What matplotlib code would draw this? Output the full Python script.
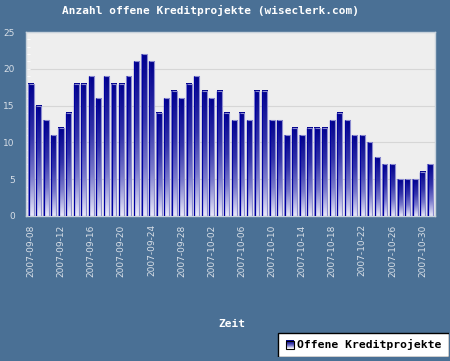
import numpy as np
import pandas as pd
import matplotlib
matplotlib.use("Agg")
import matplotlib.pyplot as plt
from matplotlib.colors import LinearSegmentedColormap
from matplotlib.patches import Rectangle
import matplotlib.dates as mdates

dates = pd.date_range("2007-09-08", "2007-10-31", freq="D")
values = [18, 15, 13, 11, 12, 14, 18, 18, 19, 16, 19, 18, 18, 19, 21, 22, 21, 14, 16, 17, 16, 18, 19,
          17, 16, 17, 14, 13, 14, 13, 17, 17, 13, 13, 11, 12, 11, 12, 12, 12, 13, 14, 13, 11, 11, 10, 8,
          7, 7, 5, 5, 5, 6, 7]
title = "Anzahl offene Kreditprojekte (wiseclerk.com)"
xlabel = "Zeit"
series_name = "Offene Kreditprojekte"

BG = "#4a7095"
TXT = "#d8dfe7"
cmap = LinearSegmentedColormap.from_list(
    "g", [(0.0, "#eaeafa"), (0.3, "#7a7acc"), (0.6, "#3434aa"), (1.0, "#00008c")])

fig = plt.figure(figsize=(4.5, 3.61), dpi=100, facecolor=BG)
ax = fig.add_axes([26/450, 1-216/361, 409/450, 184/361])
ax.set_facecolor("#eeeeee")

x = mdates.date2num(dates.to_pydatetime())
w = 0.7
bars = ax.bar(x, values, width=w, facecolor="none", edgecolor="#8c8cd0", linewidth=0.8, zorder=3)
grad = np.linspace(0, 1, 256).reshape(-1, 1)
for b in bars:
    x0, y0 = b.get_x(), b.get_y()
    bw, bh = b.get_width(), b.get_height()
    ax.imshow(grad, extent=[x0, x0 + bw, y0, y0 + bh], origin="lower", aspect="auto",
              cmap=cmap, zorder=2, interpolation="bilinear")
    ax.plot([x0 + 0.05, x0 + 0.05], [y0, y0 + bh], color="#0000a0", linewidth=0.9, zorder=4,
            solid_capstyle="butt")
ax.set_aspect("auto")

ax.set_xlim(x[0] - 0.66, x[-1] + 0.66)
ax.set_ylim(0, 25)
ax.set_yticks(range(0, 26, 5))
ax.set_yticks(range(0, 26), minor=True)
ax.yaxis.grid(True, color="#d6d6d6", linewidth=0.8, zorder=1)
ax.set_axisbelow(True)

ax.set_xticks(x[::4])
ax.set_xticklabels([d.strftime("%Y-%m-%d") for d in dates[::4]], rotation=90)
ax.set_xticks(x, minor=True)
ax.tick_params(axis="both", which="both", colors="white", labelcolor=TXT, labelsize=6.5,
               direction="in", length=3, width=0.6)
ax.tick_params(axis="y", which="major", pad=8)
ax.tick_params(axis="x", which="major", pad=6)
for s in ax.spines.values():
    s.set_color("#c8d2dc")
    s.set_linewidth(1)

mono = {"family": "DejaVu Sans Mono", "weight": "bold"}
fig.text(0.467, 1 - 10/361, title, color="white", fontsize=8, ha="center", va="center", **mono)
fig.text(232/450, 1 - 324/361, xlabel, color="white", fontsize=8, ha="center", va="center", **mono)

leg_ax = fig.add_axes([277/450, 1 - 357/361, 172/450, 25/361])
leg_ax.axis("off")
leg_ax.add_patch(Rectangle((0.5, 0.5), 171, 24, facecolor="white", edgecolor="black", linewidth=1))
leg_ax.imshow(grad, extent=[9, 17, 8.5, 16.5], origin="lower", aspect="auto", cmap=cmap, zorder=3)
leg_ax.add_patch(Rectangle((9, 8.5), 8, 8, facecolor="none", edgecolor="black", linewidth=0.8, zorder=4))
leg_ax.set_xlim(0, 172)
leg_ax.set_ylim(0, 25)
leg_ax.text(20, 12.5, series_name, color="black", fontsize=8.2, va="center", ha="left", **mono)

fig.savefig("out.png", dpi=100, facecolor=BG)
